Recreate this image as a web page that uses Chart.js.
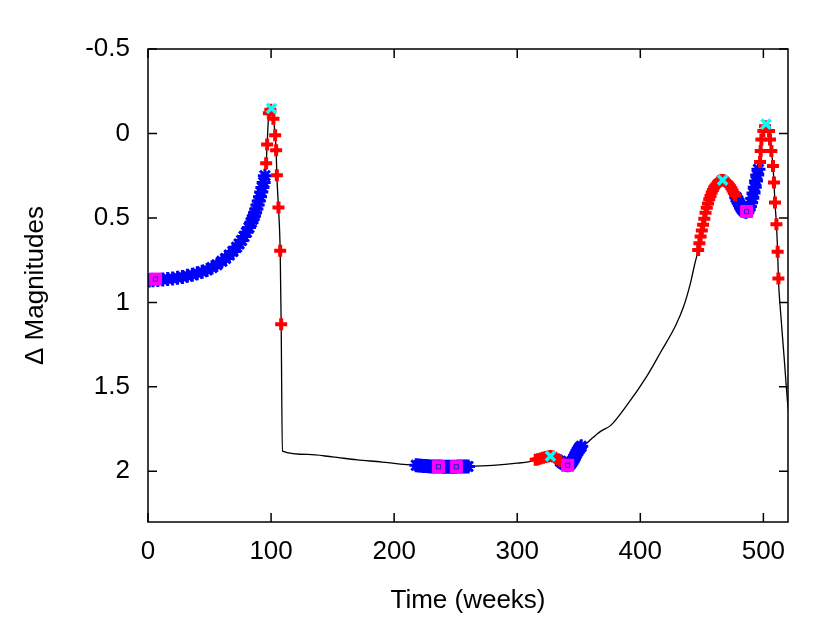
<html>
<head>
<meta charset="UTF-8">
<title>Delta Magnitudes</title>
<script src="https://cdn.jsdelivr.net/npm/chart.js@4/dist/chart.umd.min.js"></script>
<style>
  body { margin: 0; background: #fff; }
</style>
<script>
// black model curve
var lineWeeks = [0, 20, 40, 48, 56, 63, 69, 74, 78, 82, 85, 88, 90, 92, 94, 95, 96, 96.8, 98.2, 100.3, 101.9, 103.3, 104.1, 104.7, 106, 107.4, 108.2, 109.2,
  130, 150, 170, 190, 205, 218, 240, 260, 280, 300, 310, 315, 321, 327, 331, 335, 338, 341, 344, 347, 350, 352, 356, 360, 364, 368, 376, 389, 405.6, 416.5, 428.7, 435.4, 440.9, 444,
  447, 450, 453, 457, 461, 466.9, 472, 477, 481, 486, 489, 492, 495, 497.3, 497.8, 498.4, 500, 501.3, 502.1, 503.3, 504.6, 505.4, 506.5, 507.8, 508.6, 509.4, 510.6, 511.6, 512.2, 514, 516.8, 519.5, 521];
var lineMags = [0.870, 0.858, 0.828, 0.808, 0.777, 0.745, 0.698, 0.654, 0.610, 0.557, 0.508, 0.447, 0.400, 0.347, 0.290, 0.250, 0.177, 0.065, -0.120, -0.148, -0.087, 0.010, 0.099, 0.248, 0.439, 0.695, 1.130, 1.880,
  1.900, 1.915, 1.932, 1.945, 1.957, 1.964, 1.973, 1.971, 1.965, 1.952, 1.942, 1.932, 1.920, 1.910, 1.920, 1.940, 1.956, 1.964, 1.948, 1.910, 1.870, 1.855, 1.835, 1.810, 1.785, 1.762, 1.728, 1.610, 1.433, 1.295, 1.137, 1.020, 0.881, 0.780,
  0.690, 0.575, 0.470, 0.370, 0.310, 0.276, 0.303, 0.367, 0.425, 0.463, 0.432, 0.352, 0.246, 0.169, 0.104, 0.035, -0.014, -0.043, -0.055, -0.043, -0.014, 0.035, 0.104, 0.193, 0.291, 0.409, 0.537, 0.700, 0.858, 1.060, 1.320, 1.580, 1.680];

// blue stars
var blueWeeks = [1, 4, 8, 12, 16, 20, 24, 28, 32, 36, 40, 44, 48, 52, 56, 60, 63, 66, 69, 72, 74, 76, 78, 80, 82, 84, 85, 86, 87, 88, 89, 90, 91, 92, 93, 94, 95,
  218, 220, 222, 224, 226, 228, 230, 232, 234, 236, 238, 240, 242, 244, 246, 248, 250, 252, 254, 256, 258, 260,
  335, 336, 337, 338, 339, 340, 341, 342, 343, 344, 345, 346, 347, 348, 349, 350, 351, 352,
  478, 479, 480, 481, 482, 483, 484, 485, 486, 487, 488, 489, 490, 491, 492, 493, 494, 495, 496];
var blueMags = [0.870, 0.869, 0.867, 0.865, 0.862, 0.858, 0.854, 0.849, 0.843, 0.836, 0.828, 0.819, 0.808, 0.794, 0.777, 0.757, 0.740, 0.720, 0.698, 0.673, 0.654, 0.633, 0.610, 0.585, 0.557, 0.526, 0.508, 0.489, 0.469, 0.447, 0.424, 0.400, 0.374, 0.347, 0.320, 0.290, 0.250,
  1.964, 1.966, 1.967, 1.968, 1.969, 1.970, 1.971, 1.971, 1.972, 1.972, 1.972, 1.973, 1.973, 1.973, 1.973, 1.973, 1.973, 1.972, 1.972, 1.972, 1.971, 1.971,
  1.940, 1.946, 1.951, 1.956, 1.960, 1.963, 1.964, 1.962, 1.957, 1.948, 1.937, 1.924, 1.910, 1.896, 1.882, 1.870, 1.860, 1.852,
  0.380, 0.395, 0.410, 0.425, 0.438, 0.449, 0.457, 0.462, 0.463, 0.459, 0.449, 0.432, 0.410, 0.383, 0.352, 0.318, 0.282, 0.246, 0.212];

// red plus marks
var redWeeks = [96, 96.8, 98.2, 99.4, 101.9, 103.3, 104.1, 104.7, 106, 107.4, 108.2,
  315, 317, 319, 321, 323, 325, 327, 329, 331, 333, 335,
  447, 448, 449, 450, 451, 452, 453, 454, 455, 456, 457, 458, 459, 460, 461, 462, 463, 464, 465, 466, 467, 468, 469, 470, 471, 472, 473, 474, 475, 476, 477,
  497.3, 497.8, 498.4, 500, 501.3, 504.6, 505.4, 506.5, 507.8, 508.6, 509.4, 510.6, 511.6, 512.2];
var redMags = [0.177, 0.065, -0.120, -0.140, -0.087, 0.010, 0.099, 0.248, 0.439, 0.695, 1.130,
  1.932, 1.928, 1.924, 1.920, 1.915, 1.912, 1.910, 1.913, 1.920, 1.928, 1.938,
  0.690, 0.650, 0.610, 0.575, 0.540, 0.505, 0.470, 0.440, 0.415, 0.390, 0.370, 0.350, 0.335, 0.320, 0.310, 0.300, 0.290, 0.283, 0.278, 0.276, 0.276, 0.278, 0.282, 0.288, 0.295, 0.303, 0.313, 0.325, 0.338, 0.352, 0.367,
  0.169, 0.104, 0.035, -0.014, -0.043, -0.014, 0.035, 0.104, 0.193, 0.291, 0.409, 0.537, 0.700, 0.858];

// cyan maxima
var maxWeeks = [100.3, 327, 466.9, 502.1];
var maxMags = [-0.148, 1.910, 0.276, -0.055];

// magenta minima
var minWeeks = [6, 236, 250.5, 341, 486.4];
var minMags = [0.862, 1.973, 1.973, 1.964, 0.462];

var xTicks = [0, 100, 200, 300, 400, 500];
var yTicks = [-0.5, 0, 0.5, 1, 1.5, 2];

function pts(ws, ms) {
  var out = [];
  for (var i = 0; i < ws.length; i++) out.push({x: ws[i], y: ms[i]});
  return out;
}

var frame = {
  id: 'frame',
  beforeDraw: function(chart) {
    var c = chart.ctx;
    c.save();
    c.fillStyle = '#fff';
    c.fillRect(0, 0, chart.width, chart.height);
    c.restore();
  },
  afterDraw: function(chart) {
    var c = chart.ctx, a = chart.chartArea;
    var xs = chart.scales.x, ys = chart.scales.y;
    c.save();
    c.strokeStyle = '#000';
    c.lineWidth = 1.5;
    c.strokeRect(a.left, a.top, a.right - a.left, a.bottom - a.top);
    c.beginPath();
    xTicks.forEach(function(v) {
      var px = xs.getPixelForValue(v);
      c.moveTo(px, a.bottom); c.lineTo(px, a.bottom - 9);
      c.moveTo(px, a.top); c.lineTo(px, a.top + 9);
    });
    yTicks.forEach(function(v) {
      var py = ys.getPixelForValue(v);
      c.moveTo(a.left, py); c.lineTo(a.left + 9, py);
      c.moveTo(a.right, py); c.lineTo(a.right - 9, py);
    });
    c.stroke();
    c.restore();
  }
};

window.onload = function() {
  var font = {family: "'Liberation Sans', Arial, sans-serif", size: 26};
  new Chart(document.getElementById('chart'), {
    type: 'scatter',
    data: {
      datasets: [
        {data: pts(maxWeeks, maxMags), pointStyle: 'crossRot', pointRadius: 6.5, borderColor: '#00ffff', borderWidth: 3.5, order: 1},
        {data: pts(minWeeks, minMags), pointStyle: 'rect', pointRadius: 3, borderColor: '#2020c0', backgroundColor: 'rgba(0,0,0,0)', borderWidth: 1, order: 2},
        {data: pts(minWeeks, minMags), pointStyle: 'rect', pointRadius: 8.5, borderColor: '#ff00ff', backgroundColor: '#ff00ff', borderWidth: 1, order: 3},
        {data: pts(redWeeks, redMags), pointStyle: 'cross', pointRadius: 6, borderColor: '#ff0000', borderWidth: 4, order: 4},
        {data: pts(blueWeeks, blueMags), pointStyle: 'star', pointRadius: 7, borderColor: '#0000ff', borderWidth: 3, order: 5},
        {data: pts(lineWeeks, lineMags), showLine: true, pointRadius: 0, borderColor: '#000', borderWidth: 1.3, cubicInterpolationMode: 'monotone', order: 6}
      ]
    },
    options: {
      responsive: false,
      animation: false,
      devicePixelRatio: 1,
      layout: {padding: {top: 49, right: 42, left: 0, bottom: 0}},
      plugins: {legend: {display: false}, tooltip: {enabled: false}},
      scales: {
        x: {
          type: 'linear', min: 0, max: 520,
          grid: {display: false, drawTicks: false},
          border: {display: false},
          afterBuildTicks: function(s) { s.ticks = xTicks.map(function(v) { return {value: v}; }); },
          afterFit: function(s) { s.height = 114; },
          ticks: {color: '#000', font: font, padding: 14, maxRotation: 0},
          title: {display: true, text: 'Time (weeks)', color: '#000', font: font, padding: {top: 0, bottom: 20}}
        },
        y: {
          type: 'linear', min: -0.5, max: 2.3, reverse: true,
          grid: {display: false, drawTicks: false},
          border: {display: false},
          afterBuildTicks: function(s) { s.ticks = yTicks.map(function(v) { return {value: v}; }); },
          afterFit: function(s) { s.width = 148; },
          ticks: {color: '#000', font: font, padding: 18, callback: function(v) { return String(v); }},
          title: {display: true, text: '\u0394 Magnitudes', color: '#000', font: font, padding: {top: 20, bottom: 0}}
        }
      }
    },
    plugins: [frame]
  });
};
</script>
</head>
<body>
<canvas id="chart" width="830" height="636"></canvas>
</body>
</html>
